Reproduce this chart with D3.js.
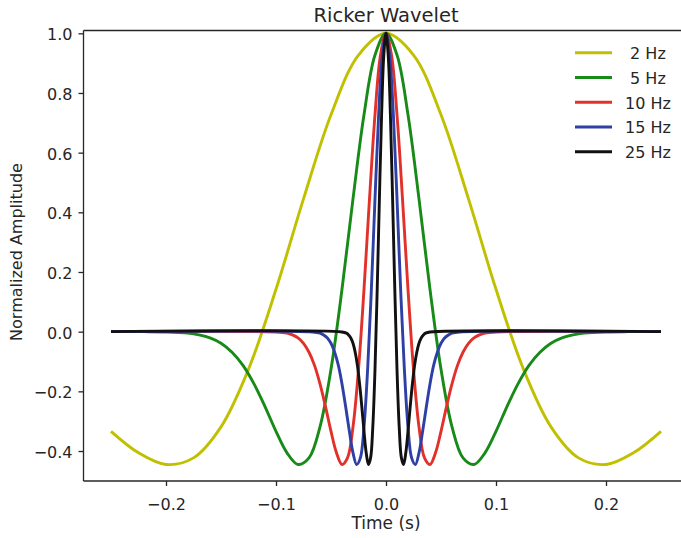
<!DOCTYPE html>
<html>
<head>
<meta charset="utf-8">
<script src="https://cdn.jsdelivr.net/npm/d3@7"></script>
<style>
  html, body { margin: 0; padding: 0; background: #fff; }
  text { font-family: "DejaVu Sans", sans-serif; fill: #262626; }
</style>
</head>
<body>
<svg id="chart" width="681" height="538"></svg>
<script>
// ---------- data ----------
const seriesNames = [" 2 Hz", " 5 Hz", "10 Hz", "15 Hz", "25 Hz"];
const seriesColors = ["#c0c000", "#178a17", "#e2302a", "#2e3fa5", "#111111"];

const time2 = [-0.25,-0.225,-0.2,-0.175,-0.15,-0.125,-0.1,-0.075,-0.05,-0.025,0,0.025,0.05,0.075,0.1,0.125,0.15,0.175,0.2,0.225,0.25];
const amp2  = [-0.334,-0.406,-0.445,-0.423,-0.319,-0.126,0.142,0.445,0.727,0.927,1.0,0.927,0.727,0.445,0.142,-0.126,-0.319,-0.423,-0.445,-0.406,-0.334];

const time5 = [-0.25,-0.22,-0.2,-0.18,-0.17,-0.16,-0.15,-0.14,-0.13,-0.12,-0.11,-0.1,-0.09,-0.08,-0.07,-0.06,-0.05,-0.04,-0.03,-0.02,-0.01,0,
               0.01,0.02,0.03,0.04,0.05,0.06,0.07,0.08,0.09,0.1,0.11,0.12,0.13,0.14,0.15,0.16,0.17,0.18,0.2,0.22,0.25];
const amp5  = [0,0,-0.001,-0.005,-0.011,-0.021,-0.039,-0.069,-0.113,-0.175,-0.251,-0.334,-0.406,-0.445,-0.423,-0.319,-0.126,0.142,0.445,0.727,0.927,1.0,
               0.927,0.727,0.445,0.142,-0.126,-0.319,-0.423,-0.445,-0.406,-0.334,-0.251,-0.175,-0.113,-0.069,-0.039,-0.021,-0.011,-0.005,-0.001,0,0];

const time10 = [-0.25,-0.1,-0.09,-0.085,-0.08,-0.075,-0.07,-0.065,-0.06,-0.055,-0.05,-0.045,-0.04,-0.035,-0.03,-0.025,-0.02,-0.015,-0.01,-0.005,0,
                0.005,0.01,0.015,0.02,0.025,0.03,0.035,0.04,0.045,0.05,0.055,0.06,0.065,0.07,0.075,0.08,0.085,0.09,0.1,0.25];
const amp10  = [0,-0.001,-0.005,-0.011,-0.021,-0.039,-0.069,-0.113,-0.175,-0.251,-0.334,-0.406,-0.445,-0.423,-0.319,-0.126,0.142,0.445,0.727,0.927,1.0,
                0.927,0.727,0.445,0.142,-0.126,-0.319,-0.423,-0.445,-0.406,-0.334,-0.251,-0.175,-0.113,-0.069,-0.039,-0.021,-0.011,-0.005,-0.001,0];

const time15 = [-0.25,-0.0667,-0.06,-0.0567,-0.0533,-0.05,-0.0467,-0.0433,-0.04,-0.0367,-0.0333,-0.03,-0.0267,-0.0233,-0.02,-0.0167,-0.0133,-0.01,-0.0067,-0.0033,0,
                0.0033,0.0067,0.01,0.0133,0.0167,0.02,0.0233,0.0267,0.03,0.0333,0.0367,0.04,0.0433,0.0467,0.05,0.0533,0.0567,0.06,0.0667,0.25];
const amp15  = [0,-0.001,-0.005,-0.011,-0.021,-0.039,-0.069,-0.113,-0.175,-0.251,-0.334,-0.406,-0.445,-0.423,-0.319,-0.126,0.142,0.445,0.727,0.927,1.0,
                0.927,0.727,0.445,0.142,-0.126,-0.319,-0.423,-0.445,-0.406,-0.334,-0.251,-0.175,-0.113,-0.069,-0.039,-0.021,-0.011,-0.005,-0.001,0];

const time25 = [-0.25,-0.04,-0.036,-0.034,-0.032,-0.03,-0.028,-0.026,-0.024,-0.022,-0.02,-0.018,-0.016,-0.014,-0.012,-0.01,-0.008,-0.006,-0.004,-0.002,0,
                0.002,0.004,0.006,0.008,0.01,0.012,0.014,0.016,0.018,0.02,0.022,0.024,0.026,0.028,0.03,0.032,0.034,0.036,0.04,0.25];
const amp25  = [0,-0.001,-0.005,-0.011,-0.021,-0.039,-0.069,-0.113,-0.175,-0.251,-0.334,-0.406,-0.445,-0.423,-0.319,-0.126,0.142,0.445,0.727,0.927,1.0,
                0.927,0.727,0.445,0.142,-0.126,-0.319,-0.423,-0.445,-0.406,-0.334,-0.251,-0.175,-0.113,-0.069,-0.039,-0.021,-0.011,-0.005,-0.001,0];

const xTicks = [-0.2, -0.1, 0.0, 0.1, 0.2];
const yTicks = [-0.4, -0.2, 0.0, 0.2, 0.4, 0.6, 0.8, 1.0];

const seriesTimes = [time2, time5, time10, time15, time25];
const seriesAmps  = [amp2, amp5, amp10, amp15, amp25];

// ---------- layout ----------
const svg = d3.select("#chart");
const pLeft = 83.5, pRight = 688.5, pTop = 30.5, pBottom = 481;
const x = d3.scaleLinear().domain([-0.275, 0.275]).range([pLeft, pRight]);
const y = d3.scaleLinear().domain([-0.5005, 1.0094]).range([pBottom, pTop]);
const fmt = d3.format(".1f");
const axisColor = "#262626";

// lines
const line = d3.line().x(d => x(d[0])).y(d => y(d[1])).curve(d3.curveCatmullRom.alpha(0.5));
const clipId = "plotclip";
svg.append("clipPath").attr("id", clipId).append("rect")
  .attr("x", pLeft).attr("y", pTop).attr("width", pRight - pLeft).attr("height", pBottom - pTop);

const g = svg.append("g").attr("clip-path", `url(#${clipId})`);
seriesNames.forEach((name, i) => {
  const pts = seriesTimes[i].map((t, j) => [t, seriesAmps[i][j]]);
  g.append("path")
    .attr("d", line(pts))
    .attr("fill", "none")
    .attr("stroke", seriesColors[i])
    .attr("stroke-width", 2.9)
    .attr("stroke-linejoin", "round")
    .attr("stroke-linecap", "butt");
});

// axes
const xAxis = d3.axisBottom(x).tickValues(xTicks).tickFormat(fmt).tickSize(5).tickPadding(6);
const yAxis = d3.axisLeft(y).tickValues(yTicks).tickFormat(fmt).tickSize(5).tickPadding(6);

const gx = svg.append("g").attr("transform", `translate(0,${pBottom})`).call(xAxis);
const gy = svg.append("g").attr("transform", `translate(${pLeft},0)`).call(yAxis);
[gx, gy].forEach(ax => {
  ax.select(".domain").remove();
  ax.selectAll(".tick line").attr("stroke", axisColor).attr("stroke-width", 1.3);
  ax.selectAll(".tick text").attr("font-size", 16).attr("font-family", "DejaVu Sans").attr("fill", axisColor);
});
gx.selectAll(".tick text").attr("dy", "1.1em");
gy.selectAll(".tick text").attr("dy", "0.4em");

// spines
const spines = [
  [pLeft, pTop, pLeft, pBottom],
  [pLeft, pBottom, pRight, pBottom],
  [pLeft, pTop, pRight, pTop],
  [pRight, pTop, pRight, pBottom]
];
spines.forEach(s => {
  svg.append("line").attr("x1", s[0]).attr("y1", s[1]).attr("x2", s[2]).attr("y2", s[3])
    .attr("stroke", axisColor).attr("stroke-width", 1.3);
});

// labels
svg.append("text").attr("x", (pLeft + pRight) / 2).attr("y", 22)
  .attr("text-anchor", "middle").attr("font-size", 19.5).text("Ricker Wavelet");
svg.append("text").attr("x", (pLeft + pRight) / 2).attr("y", 529)
  .attr("text-anchor", "middle").attr("font-size", 17).text("Time (s)");
svg.append("text").attr("transform", "translate(21.5,252) rotate(-90)")
  .attr("text-anchor", "middle").attr("font-size", 16).text("Normalized Amplitude");

// legend
const legY0 = 52.7, legStep = 24.75;
const leg = svg.append("g");
seriesNames.forEach((name, i) => {
  const yy = legY0 + i * legStep;
  leg.append("line").attr("x1", 575).attr("x2", 612).attr("y1", yy).attr("y2", yy)
    .attr("stroke", seriesColors[i]).attr("stroke-width", 2.9);
  leg.append("text").attr("x", 625).attr("y", yy + 6.3)
    .attr("font-size", 16).style("white-space", "pre").attr("xml:space", "preserve").text(name);
});
</script>
</body>
</html>
